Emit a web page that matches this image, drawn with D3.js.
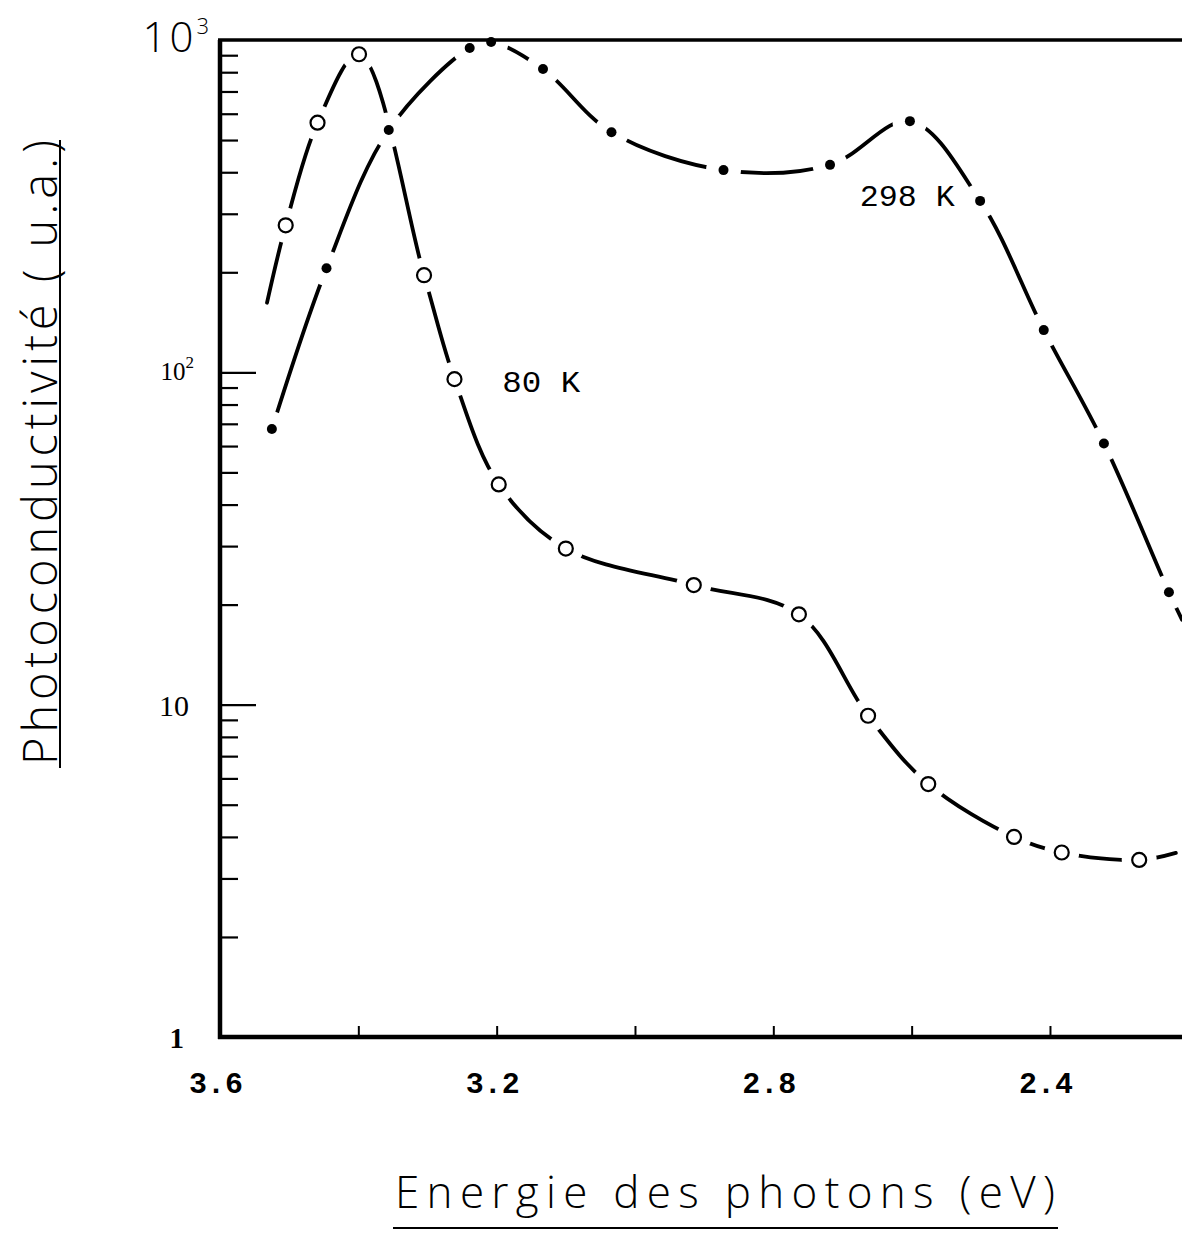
<!DOCTYPE html>
<html><head><meta charset="utf-8">
<script src="https://cdn.jsdelivr.net/npm/d3@7"></script>
<style>body{margin:0;background:#fff} svg{display:block}</style>
</head><body><svg id="c" width="1182" height="1243"></svg>
<script>
// ---- data ----
const energy80  = [3.532, 3.505, 3.459, 3.399, 3.305, 3.261, 3.197, 3.100, 2.915, 2.763, 2.663, 2.576, 2.452, 2.383, 2.271, 2.218];
const photo80   = [162,   277,   564,   906,   196,   95.4,  46,    29.5,  22.9,  18.7,  9.26,  5.77,  4.0,   3.59,  3.41,  3.58];
const marked80  = [0,     1,     1,     1,     1,     1,     1,     1,     1,     1,     1,     1,     1,     1,     1,     0];

const energy298 = [3.525, 3.446, 3.356, 3.239, 3.208, 3.133, 3.034, 2.872, 2.718, 2.6025, 2.501, 2.409, 2.322, 2.228, 2.209];
const photo298  = [67.5,  205.6, 536,   946,   986,   818,   528,   406,   421,   570,    328,   134,   61.1,  21.8,  18];
const marked298 = [1,     1,     1,     1,     1,     1,     1,     1,     1,     1,      1,     1,     1,     1,     0];

const seriesNames = ["80 K", "298 K"];
const seriesLabelEnergy = [3.192, 2.675];
const seriesLabelValue = [87, 316];
const xTickValues = [3.4, 3.2, 3.0, 2.8, 2.6, 2.4];
const xLabelValues = [3.6, 3.2, 2.8, 2.4];
const xLabelTexts = ["3.6", "3.2", "2.8", "2.4"];
const yMajorValues = [10, 100];
const yDecades = [1, 10, 100];
const yMinorMultipliers = [2, 3, 4, 5, 6, 7, 8, 9];
const yLabelValues = [1, 10, 100, 1000];
const yLabelBase = ["1", "10", "10", "10"];
const yLabelExp = ["", "", "2", "3"];
const xTitle = "Energie des photons  (eV)";
const yTitle = "Photoconductivité ( u.a.)";

// ---- layout ----
const svg = d3.select("#c");
const x = d3.scaleLinear().domain([3.6, 2.2]).range([220, 1188.3]);
const y = d3.scaleLog().domain([1, 1000]).range([1037, 40]);

const s80 = energy80.map((e, i) => ({e, v: photo80[i], m: marked80[i]}));
const s298 = energy298.map((e, i) => ({e, v: photo298[i], m: marked298[i]}));

const line = d3.line().x(d => x(d.e)).y(d => y(d.v)).curve(d3.curveCatmullRom.alpha(0.5));

svg.append("defs").append("clipPath").attr("id", "clip")
  .append("rect").attr("x", 220).attr("y", 30).attr("width", 970).attr("height", 1010);

const gLines = svg.append("g").attr("clip-path", "url(#clip)");
[s80, s298].forEach(s => {
  gLines.append("path").datum(s).attr("d", line)
    .attr("fill", "none").attr("stroke", "#000").attr("stroke-width", 3.8)
    .attr("stroke-linecap", "round");
});

// white gaps around markers
const allMarked = s80.filter(d => d.m).concat(s298.filter(d => d.m));
svg.append("g").selectAll("circle").data(allMarked).join("circle")
  .attr("cx", d => x(d.e)).attr("cy", d => y(d.v))
  .attr("r", 17.5)
  .attr("fill", "#fff");

// ---- axes ----
const minorVals = [];
yDecades.forEach(d => yMinorMultipliers.forEach(m => minorVals.push(d * m)));

const yMinorAxis = d3.axisRight(y).tickValues(minorVals).tickSize(18).tickFormat("");
const gym = svg.append("g").attr("transform", "translate(220,0)").call(yMinorAxis);
gym.select(".domain").remove();
gym.selectAll(".tick line").attr("stroke", "#000").attr("stroke-width", 2.2);

const yMajorAxis = d3.axisRight(y).tickValues(yMajorValues).tickSize(36).tickFormat("");
const gyM = svg.append("g").attr("transform", "translate(220,0)").call(yMajorAxis);
gyM.select(".domain").remove();
gyM.selectAll(".tick line").attr("stroke", "#000").attr("stroke-width", 2.4);

const xAxis = d3.axisTop(x).tickValues(xTickValues).tickSize(11).tickFormat("");
const gx = svg.append("g").attr("transform", "translate(0,1037)").call(xAxis);
gx.select(".domain").remove();
gx.selectAll(".tick line").attr("stroke", "#000").attr("stroke-width", 2);

// frame lines
svg.append("line").attr("x1", 220).attr("y1", 40).attr("x2", 220).attr("y2", 1039)
  .attr("stroke", "#000").attr("stroke-width", 4.5);
svg.append("line").attr("x1", 218).attr("y1", 1037).attr("x2", 1182).attr("y2", 1037)
  .attr("stroke", "#000").attr("stroke-width", 4.5);
svg.append("line").attr("x1", 218).attr("y1", 40).attr("x2", 1182).attr("y2", 40)
  .attr("stroke", "#000").attr("stroke-width", 3.5);

// ---- markers ----
svg.append("g").selectAll("circle").data(s80.filter(d => d.m)).join("circle")
  .attr("cx", d => x(d.e)).attr("cy", d => y(d.v)).attr("r", 7)
  .attr("fill", "#fff").attr("stroke", "#000").attr("stroke-width", 2.2);
svg.append("g").selectAll("circle").data(s298.filter(d => d.m)).join("circle")
  .attr("cx", d => x(d.e)).attr("cy", d => y(d.v)).attr("r", 5)
  .attr("fill", "#000");

// ---- tick labels ----
svg.append("g").selectAll("text").data(xLabelValues).join("text")
  .attr("x", d => x(d) - 4).attr("y", 1093)
  .attr("text-anchor", "middle")
  .attr("font-family", "'Liberation Mono', 'DejaVu Sans Mono', monospace")
  .attr("font-weight", "bold").attr("font-size", 30)
  .text((d, i) => xLabelTexts[i]);

const yLab = svg.append("g");
yLabelValues.forEach((v, i) => {
  const t = yLab.append("text").attr("text-anchor", "end");
  if (i === 0) {
    t.attr("x", 184).attr("y", y(v) + 11).attr("font-family", "'Liberation Serif', serif")
     .attr("font-weight", "bold").attr("font-size", 29).text(yLabelBase[i]);
  } else if (i === 1) {
    t.attr("x", 189).attr("y", y(v) + 11).attr("font-family", "'Liberation Serif', serif")
     .attr("font-size", 30).text(yLabelBase[i]);
  } else if (i === 2) {
    t.attr("x", 194).attr("y", y(v) + 8).attr("font-family", "'Liberation Serif', serif")
     .attr("font-size", 25);
    t.append("tspan").text(yLabelBase[i]);
    t.append("tspan").attr("dy", -12).attr("font-size", 17).text(yLabelExp[i]);
  } else {
    t.attr("x", 209).attr("y", y(v) + 12).attr("font-family", "'Open Sans', 'DejaVu Sans', sans-serif")
     .attr("font-weight", 300).attr("font-size", 42);
    t.append("tspan").attr("letter-spacing", 3).text(yLabelBase[i]);
    t.append("tspan").attr("dy", -18).attr("font-size", 22).text(yLabelExp[i]);
  }
});

// ---- series labels ----
svg.append("g").selectAll("text").data(seriesNames).join("text")
  .attr("x", (d, i) => x(seriesLabelEnergy[i])).attr("y", (d, i) => y(seriesLabelValue[i]))
  .attr("font-family", "'Liberation Mono', monospace").attr("font-size", 30)
  .attr("textLength", (d, i) => i === 0 ? 78 : 95).attr("lengthAdjust", "spacingAndGlyphs")
  .text(d => d);

// ---- axis titles ----
svg.append("text").attr("x", 395).attr("y", 1208)
  .attr("font-family", "'Open Sans', 'DejaVu Sans', sans-serif").attr("font-weight", 300)
  .attr("font-size", 44).attr("textLength", 660).attr("lengthAdjust", "spacing")
  .text(xTitle);
svg.append("line").attr("x1", 393).attr("y1", 1228).attr("x2", 1058).attr("y2", 1228)
  .attr("stroke", "#000").attr("stroke-width", 2);

svg.append("text").attr("transform", "translate(57,765) rotate(-90)")
  .attr("font-family", "'Open Sans', 'DejaVu Sans', sans-serif").attr("font-weight", 300)
  .attr("font-size", 47).attr("textLength", 625).attr("lengthAdjust", "spacing")
  .text(yTitle);
svg.append("line").attr("x1", 60).attr("y1", 768).attr("x2", 60).attr("y2", 140)
  .attr("stroke", "#000").attr("stroke-width", 2);
</script></body></html>
